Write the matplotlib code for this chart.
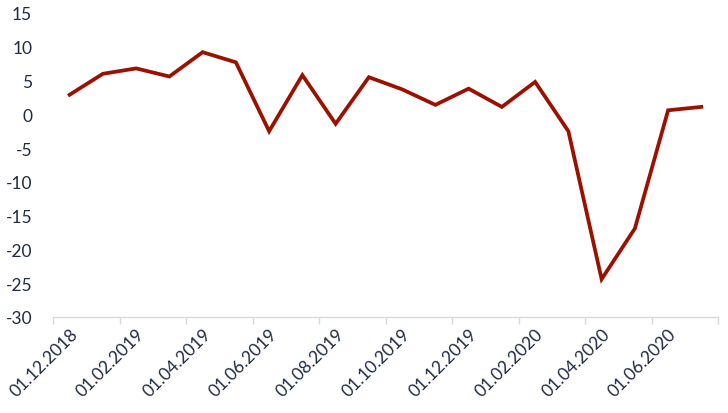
import numpy as np
import matplotlib.pyplot as plt

# monthly values, 01.12.2018 .. 01.07.2020
dates = ['01.12.2018', '01.01.2019', '01.02.2019', '01.03.2019', '01.04.2019',
         '01.05.2019', '01.06.2019', '01.07.2019', '01.08.2019', '01.09.2019',
         '01.10.2019', '01.11.2019', '01.12.2019', '01.01.2020', '01.02.2020',
         '01.03.2020', '01.04.2020', '01.05.2020', '01.06.2020', '01.07.2020']
values = [2.9, 6.0, 6.8, 5.6, 9.2, 7.7, -2.5, 5.8, -1.4, 5.5,
          3.7, 1.4, 3.8, 1.1, 4.8, -2.5, -24.4, -16.9, 0.6, 1.1]
yticks = [15, 10, 5, 0, -5, -10, -15, -20, -25, -30]

plt.rcParams['font.family'] = ['Lato', 'DejaVu Sans']
text_col = '#1f2a44'
axis_col = '#d9d9d9'

fig = plt.figure(figsize=(7.28, 4.14), dpi=100)
ax = fig.add_axes([53 / 728, 1 - 318 / 414, 665 / 728, 304 / 414])

x = np.arange(len(values))
ax.plot(x, values, color='#9b1100', linewidth=2.7, solid_joinstyle='miter')

ax.set_xlim(-0.5, len(values) - 0.5)
ax.set_ylim(min(yticks), max(yticks))
ax.set_yticks(yticks)
ax.set_yticklabels([str(v) for v in yticks], fontsize=12.5, color=text_col)
ax.tick_params(axis='y', length=0, pad=15)

# tick marks between categories every 2 months, labels on the categories
ax.set_xticks(np.arange(-0.5, len(values), 2))
ax.set_xticklabels([])
ax.tick_params(axis='x', which='major', length=5, color=axis_col, width=1)
ax.set_xticks(x[::2], minor=True)
ax.set_xticklabels(dates[::2], minor=True, rotation=45, ha='right',
                   rotation_mode='anchor', fontsize=12.5, color=text_col)
ax.tick_params(axis='x', which='minor', length=0, pad=6)

for s in ['top', 'right', 'left']:
    ax.spines[s].set_visible(False)
ax.spines['bottom'].set_color(axis_col)
ax.spines['bottom'].set_linewidth(1)

fig.savefig('out.png', dpi=100)
